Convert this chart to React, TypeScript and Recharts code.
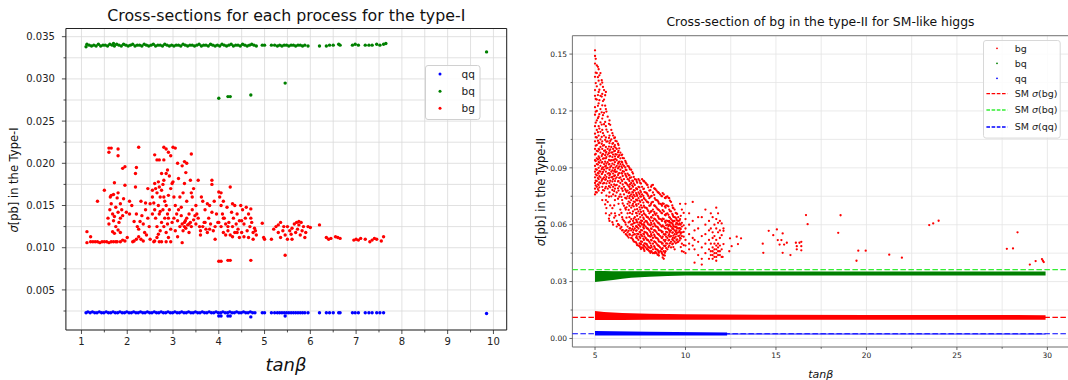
import React from 'react';
import {
  ComposedChart,
  Scatter,
  Area,
  XAxis,
  YAxis,
  CartesianGrid,
  ReferenceLine,
  ReferenceArea,
  Legend,
} from 'recharts';

type P = [number, number];

// ---------------- Left panel (type-I) ----------------
const typeIXTicks = [1, 1.5, 2, 2.5, 3, 3.5, 4, 4.5, 5, 5.5, 6, 6.5, 7, 7.5, 8, 8.5, 9, 9.5, 10];
const typeIYTicks = [0.0025, 0.005, 0.0075, 0.01, 0.0125, 0.015, 0.0175, 0.02, 0.0225, 0.025, 0.0275, 0.03, 0.0325, 0.035];

const typeIBq: P[] = [
  [1.10, 0.0338], [1.12, 0.0341], [1.17, 0.0340], [1.22, 0.0339], [1.27, 0.0340], [1.32, 0.0339], [1.37, 0.0341], [1.42, 0.0339],
  [1.47, 0.0340], [1.52, 0.0340], [1.57, 0.0339], [1.62, 0.0341], [1.67, 0.0340], [1.70, 0.0342], [1.72, 0.0339], [1.77, 0.0341],
  [1.82, 0.0340], [1.87, 0.0339], [1.92, 0.0341], [1.97, 0.0340], [2.02, 0.0339], [2.07, 0.0340], [2.12, 0.0341], [2.17, 0.0339],
  [2.22, 0.0340], [2.27, 0.0340], [2.32, 0.0339], [2.37, 0.0341], [2.42, 0.0340], [2.47, 0.0339], [2.52, 0.0340], [2.57, 0.0341],
  [2.62, 0.0339], [2.67, 0.0340], [2.72, 0.0340], [2.77, 0.0339], [2.82, 0.0341], [2.87, 0.0340], [2.92, 0.0339], [2.97, 0.0340],
  [3.02, 0.0339], [3.07, 0.0340], [3.12, 0.0340], [3.17, 0.0339], [3.22, 0.0341], [3.27, 0.0340], [3.32, 0.0339], [3.37, 0.0340],
  [3.42, 0.0340], [3.47, 0.0339], [3.52, 0.0340], [3.57, 0.0341], [3.62, 0.0339], [3.67, 0.0340], [3.72, 0.0340], [3.77, 0.0339],
  [3.82, 0.0341], [3.87, 0.0340], [3.92, 0.0339], [3.97, 0.0340], [4.02, 0.0339], [4.07, 0.0341], [4.12, 0.0340], [4.17, 0.0339],
  [4.22, 0.0340], [4.27, 0.0341], [4.32, 0.0339], [4.37, 0.0340], [4.42, 0.0340], [4.47, 0.0339], [4.52, 0.0341], [4.57, 0.0340],
  [4.62, 0.0339], [4.67, 0.0340], [4.72, 0.0341], [4.77, 0.0340], [4.82, 0.0339],
  [4.95, 0.0340], [5.00, 0.0340], [5.15, 0.0340], [5.22, 0.0340], [5.28, 0.0339], [5.33, 0.0340], [5.38, 0.0339], [5.43, 0.0340],
  [5.48, 0.0340], [5.53, 0.0339], [5.58, 0.0340], [5.63, 0.0340], [5.68, 0.0339], [5.73, 0.0340], [5.78, 0.0340], [5.83, 0.0339],
  [5.88, 0.0340], [5.95, 0.0339], [6.20, 0.0339], [6.35, 0.0339], [6.42, 0.0340], [6.50, 0.0340], [6.62, 0.0341], [6.65, 0.0340],
  [6.92, 0.0340], [6.98, 0.0341], [7.05, 0.0340], [7.20, 0.0340], [7.28, 0.0340], [7.35, 0.0340], [7.45, 0.0341], [7.52, 0.0340],
  [7.60, 0.0341], [7.65, 0.0342],
  [4.00, 0.0277], [4.20, 0.0279], [4.25, 0.0279], [4.70, 0.0281], [5.45, 0.0295], [9.85, 0.0332],
];

const typeIQq: P[] = [
  [1.10, 0.0023], [1.14, 0.0024], [1.19, 0.0023], [1.24, 0.0024], [1.29, 0.0023], [1.34, 0.0023], [1.39, 0.0024], [1.44, 0.0023],
  [1.49, 0.0023], [1.54, 0.0024], [1.59, 0.0023], [1.64, 0.0023], [1.69, 0.0024], [1.74, 0.0023], [1.79, 0.0023], [1.84, 0.0024],
  [1.89, 0.0023], [1.94, 0.0023], [1.99, 0.0024], [2.04, 0.0023], [2.09, 0.0023], [2.14, 0.0024], [2.19, 0.0023], [2.24, 0.0023],
  [2.29, 0.0024], [2.34, 0.0023], [2.39, 0.0023], [2.44, 0.0024], [2.49, 0.0023], [2.54, 0.0023], [2.59, 0.0024], [2.64, 0.0023],
  [2.69, 0.0023], [2.74, 0.0024], [2.79, 0.0023], [2.84, 0.0023], [2.89, 0.0024], [2.94, 0.0023], [2.99, 0.0023], [3.04, 0.0024],
  [3.09, 0.0023], [3.14, 0.0023], [3.19, 0.0024], [3.24, 0.0023], [3.29, 0.0023], [3.34, 0.0024], [3.39, 0.0023], [3.44, 0.0023],
  [3.49, 0.0024], [3.54, 0.0023], [3.59, 0.0023], [3.64, 0.0024], [3.69, 0.0023], [3.74, 0.0023], [3.79, 0.0024], [3.84, 0.0023],
  [3.89, 0.0023], [3.94, 0.0024], [3.99, 0.0023], [4.04, 0.0023], [4.09, 0.0024], [4.14, 0.0023], [4.19, 0.0023], [4.24, 0.0024],
  [4.29, 0.0023], [4.34, 0.0023], [4.39, 0.0024], [4.44, 0.0023], [4.49, 0.0023], [4.54, 0.0024], [4.59, 0.0023], [4.64, 0.0023],
  [4.69, 0.0024], [4.74, 0.0023], [4.79, 0.0023],
  [4.95, 0.0023], [5.00, 0.0023], [5.15, 0.0023], [5.22, 0.0023], [5.28, 0.0023], [5.33, 0.0023], [5.38, 0.0023], [5.43, 0.0023],
  [5.48, 0.0023], [5.53, 0.0023], [5.58, 0.0023], [5.63, 0.0023], [5.68, 0.0023], [5.73, 0.0023], [5.78, 0.0023], [5.83, 0.0023],
  [5.88, 0.0023], [5.95, 0.0023], [6.20, 0.0023], [6.35, 0.0023], [6.42, 0.0023], [6.50, 0.0023], [6.62, 0.0023], [6.65, 0.0023],
  [6.92, 0.0023], [6.98, 0.0023], [7.05, 0.0023], [7.20, 0.0023], [7.28, 0.0023], [7.35, 0.0023], [7.45, 0.0023], [7.52, 0.0023],
  [7.60, 0.0023],
  [4.00, 0.0019], [4.05, 0.0019], [4.20, 0.0019], [4.25, 0.0019], [4.70, 0.0018], [5.45, 0.0019], [9.85, 0.0022],
];

const typeIBg: P[] = [
  [1.12, 0.0106], [1.20, 0.0107], [1.25, 0.0107], [1.30, 0.0107], [1.35, 0.0107], [1.40, 0.0106], [1.45, 0.0107], [1.50, 0.0107],
  [1.55, 0.0107], [1.60, 0.0106], [1.65, 0.0107], [1.70, 0.0107], [1.75, 0.0107], [1.12, 0.0119], [1.20, 0.0113], [1.35, 0.0155],
  [1.50, 0.0168], [1.60, 0.0218], [1.65, 0.0218], [1.80, 0.0217], [1.60, 0.0213], [1.80, 0.0209],
  [1.58, 0.0135], [1.60, 0.0128], [1.62, 0.0145], [1.63, 0.0160], [1.65, 0.0152], [1.68, 0.0140], [1.70, 0.0163], [1.72, 0.0177],
  [1.72, 0.0137], [1.75, 0.0148], [1.75, 0.0125], [1.78, 0.0159], [1.80, 0.0165], [1.80, 0.0142], [1.82, 0.0130], [1.85, 0.0152],
  [1.85, 0.0118], [1.88, 0.0145], [1.90, 0.0138], [1.92, 0.0158], [1.95, 0.0174], [1.98, 0.0142], [2.00, 0.0112], [1.90, 0.0109],
  [1.85, 0.0107], [1.95, 0.0108], [1.78, 0.0107], [1.80, 0.0121], [1.72, 0.0117], [1.85, 0.0135], [1.65, 0.0162], [1.70, 0.0132],
  [1.68, 0.0119], [1.95, 0.0196], [1.90, 0.0194],
  [2.05, 0.0140], [2.10, 0.0150], [2.12, 0.0107], [2.15, 0.0108], [2.18, 0.0172], [2.20, 0.0140], [2.22, 0.0125], [2.25, 0.0122],
  [2.28, 0.0131], [2.30, 0.0110], [2.30, 0.0155], [2.32, 0.0138], [2.35, 0.0128], [2.38, 0.0118], [2.40, 0.0145], [2.42, 0.0115],
  [2.45, 0.0170], [2.45, 0.0135], [2.48, 0.0125], [2.50, 0.0152], [2.50, 0.0110], [2.55, 0.0160], [2.55, 0.0140], [2.58, 0.0107],
  [2.20, 0.0110], [2.25, 0.0113], [2.40, 0.0153], [2.35, 0.0108], [2.15, 0.0131], [2.18, 0.0188], [2.20, 0.0195], [2.05, 0.0155],
  [2.25, 0.0219],
  [2.60, 0.0176], [2.62, 0.0170], [2.65, 0.0165], [2.68, 0.0178], [2.70, 0.0172], [2.72, 0.0160], [2.75, 0.0168], [2.78, 0.0175],
  [2.80, 0.0180], [2.82, 0.0155], [2.85, 0.0150], [2.85, 0.0188], [2.88, 0.0140], [2.90, 0.0162], [2.92, 0.0145], [2.95, 0.0170],
  [2.98, 0.0130], [2.60, 0.0145], [2.62, 0.0135], [2.65, 0.0125], [2.68, 0.0150], [2.70, 0.0140], [2.72, 0.0120], [2.75, 0.0130],
  [2.78, 0.0145], [2.80, 0.0125], [2.82, 0.0135], [2.85, 0.0118], [2.88, 0.0128], [2.90, 0.0112], [2.95, 0.0122], [2.65, 0.0112],
  [2.70, 0.0107], [2.75, 0.0107], [2.85, 0.0107], [2.95, 0.0107], [2.60, 0.0108], [2.68, 0.0116], [2.55, 0.0168], [2.58, 0.0153],
  [2.92, 0.0185], [2.88, 0.0192], [2.75, 0.0188], [2.72, 0.0143], [2.80, 0.0160], [2.98, 0.0176], [2.90, 0.0135],
  [2.80, 0.0219], [2.85, 0.0217], [3.00, 0.0219], [3.05, 0.0218], [2.90, 0.0213], [2.95, 0.0209], [2.65, 0.0204], [2.70, 0.0204],
  [2.80, 0.0204], [2.60, 0.0210], [3.10, 0.0200], [3.20, 0.0197], [3.25, 0.0202], [3.40, 0.0211],
  [3.00, 0.0178], [3.02, 0.0160], [3.05, 0.0150], [3.08, 0.0140], [3.10, 0.0132], [3.12, 0.0145], [3.15, 0.0125], [3.18, 0.0138],
  [3.20, 0.0128], [3.22, 0.0165], [3.22, 0.0120], [3.25, 0.0130], [3.25, 0.0176], [3.28, 0.0123], [3.30, 0.0135], [3.30, 0.0155],
  [3.32, 0.0127], [3.35, 0.0140], [3.35, 0.0118], [3.38, 0.0130], [3.40, 0.0125], [3.42, 0.0145], [3.45, 0.0133], [3.45, 0.0170],
  [3.48, 0.0138], [3.50, 0.0128], [3.50, 0.0150], [3.05, 0.0120], [3.10, 0.0113], [3.15, 0.0160], [3.20, 0.0106], [3.28, 0.0189],
  [3.12, 0.0182], [3.38, 0.0180], [3.02, 0.0135], [3.18, 0.0148], [3.40, 0.0165], [3.30, 0.0200], [3.42, 0.0160], [3.25, 0.0125],
  [3.35, 0.0128], [3.27, 0.0132],
  [3.52, 0.0140], [3.55, 0.0135], [3.58, 0.0125], [3.60, 0.0120], [3.62, 0.0160], [3.65, 0.0155], [3.68, 0.0130], [3.70, 0.0145],
  [3.72, 0.0122], [3.75, 0.0118], [3.78, 0.0135], [3.80, 0.0150], [3.82, 0.0128], [3.85, 0.0142], [3.85, 0.0180], [3.85, 0.0175],
  [3.88, 0.0120], [3.90, 0.0155], [3.92, 0.0110], [3.95, 0.0140], [3.98, 0.0130], [3.55, 0.0180], [3.60, 0.0115], [3.70, 0.0130],
  [3.75, 0.0152], [3.92, 0.0125], [3.65, 0.0125], [3.80, 0.0122],
  [4.00, 0.0166], [4.02, 0.0160], [4.05, 0.0150], [4.05, 0.0125], [4.08, 0.0140], [4.10, 0.0155], [4.10, 0.0118], [4.12, 0.0135],
  [4.15, 0.0128], [4.18, 0.0148], [4.20, 0.0120], [4.22, 0.0130], [4.25, 0.0172], [4.25, 0.0115], [4.28, 0.0142], [4.30, 0.0125],
  [4.32, 0.0135], [4.35, 0.0150], [4.35, 0.0118], [4.38, 0.0128], [4.40, 0.0140], [4.42, 0.0122], [4.45, 0.0132], [4.48, 0.0150],
  [4.50, 0.0118], [4.52, 0.0145], [4.55, 0.0128], [4.58, 0.0135], [4.60, 0.0148], [4.62, 0.0120], [4.65, 0.0140], [4.68, 0.0125],
  [4.70, 0.0146], [4.72, 0.0130], [4.75, 0.0118], [4.78, 0.0123], [4.80, 0.0120], [4.82, 0.0115], [4.15, 0.0115], [4.30, 0.0113],
  [4.45, 0.0112], [4.20, 0.0125], [4.40, 0.0118], [4.55, 0.0113], [4.65, 0.0112], [4.10, 0.0135], [4.05, 0.0165], [4.30, 0.0152],
  [4.50, 0.0132], [4.70, 0.0135], [4.00, 0.0130], [4.75, 0.0110],
  [4.00, 0.0084], [4.05, 0.0084], [4.20, 0.0085], [4.25, 0.0085], [4.70, 0.0085], [5.45, 0.0091],
  [4.95, 0.0129], [4.98, 0.0112], [5.00, 0.0110], [5.15, 0.0110], [5.20, 0.0122], [5.25, 0.0125], [5.30, 0.0118], [5.35, 0.0130],
  [5.35, 0.0112], [5.40, 0.0120], [5.45, 0.0115], [5.50, 0.0125], [5.50, 0.0110], [5.55, 0.0120], [5.60, 0.0123], [5.60, 0.0110],
  [5.65, 0.0128], [5.68, 0.0118], [5.70, 0.0130], [5.72, 0.0122], [5.75, 0.0127], [5.78, 0.0115], [5.80, 0.0130], [5.82, 0.0120],
  [5.85, 0.0125], [5.90, 0.0118], [5.95, 0.0125], [6.00, 0.0124], [5.42, 0.0125], [5.58, 0.0116], [5.75, 0.0131], [5.88, 0.0112],
  [5.30, 0.0127],
  [6.20, 0.0127], [6.35, 0.0112], [6.40, 0.0110], [6.45, 0.0111], [6.55, 0.0113], [6.60, 0.0112], [6.65, 0.0111], [6.95, 0.0109],
  [7.00, 0.0110], [7.05, 0.0109], [7.10, 0.0111], [7.20, 0.0110], [7.30, 0.0107], [7.35, 0.0109], [7.40, 0.0111], [7.45, 0.0110],
  [7.55, 0.0108], [7.60, 0.0113],
];

// ---------------- Right panel (type-II) ----------------
const typeIIXTicks = [5, 7.5, 10, 12.5, 15, 17.5, 20, 22.5, 25, 27.5, 30];
const typeIIYTicks = [0, 0.015, 0.03, 0.045, 0.06, 0.075, 0.09, 0.105, 0.12, 0.135, 0.15];

// bg cloud, read column by column: [tanβ, σ values]
const typeIIBgCols: [number, number[]][] = [
  [5.0, [0.152, 0.149, 0.145, 0.138, 0.131, 0.128, 0.122, 0.118, 0.112, 0.108, 0.104, 0.100, 0.097, 0.094, 0.091, 0.088, 0.085, 0.082, 0.079, 0.076]],
  [5.1, [0.144, 0.140, 0.133, 0.126, 0.120, 0.115, 0.110, 0.106, 0.102, 0.099, 0.095, 0.092, 0.089, 0.086, 0.083, 0.080, 0.077]],
  [5.2, [0.142, 0.136, 0.130, 0.124, 0.117, 0.112, 0.107, 0.103, 0.100, 0.096, 0.093, 0.090, 0.087, 0.084, 0.081, 0.078]],
  [5.3, [0.140, 0.134, 0.128, 0.121, 0.114, 0.109, 0.105, 0.101, 0.098, 0.094, 0.091, 0.088, 0.085, 0.082]],
  [5.4, [0.135, 0.129, 0.123, 0.116, 0.110, 0.104, 0.100, 0.097, 0.093, 0.090, 0.087, 0.084, 0.080, 0.073]],
  [5.5, [0.131, 0.126, 0.119, 0.113, 0.107, 0.102, 0.099, 0.095, 0.092, 0.089, 0.085, 0.082, 0.078]],
  [5.6, [0.130, 0.121, 0.112, 0.106, 0.101, 0.098, 0.095, 0.091, 0.088, 0.084, 0.080, 0.073, 0.066]],
  [5.7, [0.117, 0.109, 0.104, 0.100, 0.097, 0.093, 0.090, 0.087, 0.083, 0.079, 0.072]],
  [5.8, [0.115, 0.107, 0.103, 0.099, 0.096, 0.092, 0.089, 0.086, 0.082, 0.077, 0.065, 0.062]],
  [5.9, [0.110, 0.105, 0.101, 0.098, 0.094, 0.091, 0.088, 0.085, 0.081, 0.075, 0.066]],
  [6.0, [0.107, 0.103, 0.100, 0.097, 0.094, 0.090, 0.087, 0.084, 0.080, 0.076, 0.060]],
  [6.1, [0.106, 0.102, 0.099, 0.096, 0.093, 0.089, 0.086, 0.083, 0.079, 0.073, 0.066]],
  [6.2, [0.104, 0.100, 0.097, 0.094, 0.091, 0.088, 0.085, 0.081, 0.077, 0.062, 0.059]],
  [6.3, [0.102, 0.099, 0.096, 0.093, 0.090, 0.087, 0.083, 0.078, 0.071, 0.060]],
  [6.4, [0.098, 0.095, 0.092, 0.089, 0.085, 0.082, 0.076, 0.068, 0.058]],
  [6.5, [0.097, 0.093, 0.090, 0.087, 0.083, 0.079, 0.073, 0.064, 0.057]],
  [6.6, [0.095, 0.091, 0.088, 0.084, 0.080, 0.076, 0.070, 0.062, 0.056]],
  [6.7, [0.093, 0.089, 0.086, 0.082, 0.078, 0.074, 0.068, 0.060, 0.055]],
  [6.8, [0.091, 0.087, 0.084, 0.081, 0.078, 0.075, 0.071, 0.066, 0.059, 0.056, 0.054]],
  [6.9, [0.090, 0.086, 0.083, 0.080, 0.077, 0.074, 0.070, 0.064, 0.058, 0.055]],
  [7.0, [0.089, 0.085, 0.082, 0.079, 0.076, 0.073, 0.069, 0.063, 0.060, 0.057, 0.053]],
  [7.1, [0.087, 0.083, 0.080, 0.077, 0.074, 0.071, 0.067, 0.062, 0.059, 0.056, 0.052]],
  [7.2, [0.084, 0.081, 0.078, 0.075, 0.072, 0.068, 0.064, 0.061, 0.058, 0.055, 0.051]],
  [7.3, [0.083, 0.079, 0.076, 0.073, 0.070, 0.066, 0.062, 0.059, 0.057, 0.054, 0.050]],
  [7.4, [0.084, 0.080, 0.077, 0.074, 0.071, 0.067, 0.063, 0.060, 0.058, 0.055, 0.052, 0.049]],
  [7.5, [0.082, 0.078, 0.075, 0.072, 0.068, 0.064, 0.061, 0.059, 0.056, 0.053, 0.050, 0.048]],
  [7.6, [0.084, 0.080, 0.076, 0.073, 0.069, 0.065, 0.062, 0.060, 0.057, 0.054, 0.051, 0.048]],
  [7.7, [0.083, 0.079, 0.074, 0.070, 0.066, 0.063, 0.060, 0.058, 0.055, 0.052, 0.049, 0.047]],
  [7.8, [0.082, 0.077, 0.073, 0.069, 0.065, 0.062, 0.059, 0.056, 0.053, 0.050, 0.048]],
  [7.9, [0.081, 0.076, 0.072, 0.068, 0.064, 0.061, 0.058, 0.055, 0.052, 0.049, 0.047]],
  [8.0, [0.078, 0.074, 0.070, 0.066, 0.063, 0.060, 0.057, 0.054, 0.051, 0.048, 0.046]],
  [8.1, [0.080, 0.075, 0.071, 0.067, 0.064, 0.061, 0.058, 0.055, 0.052, 0.049, 0.046]],
  [8.2, [0.081, 0.077, 0.072, 0.068, 0.065, 0.062, 0.059, 0.056, 0.053, 0.050, 0.047, 0.045]],
  [8.3, [0.079, 0.074, 0.070, 0.066, 0.063, 0.060, 0.057, 0.054, 0.051, 0.048, 0.045]],
  [8.4, [0.078, 0.073, 0.069, 0.066, 0.062, 0.059, 0.056, 0.053, 0.050, 0.047, 0.045]],
  [8.5, [0.077, 0.072, 0.068, 0.064, 0.061, 0.058, 0.055, 0.052, 0.049, 0.046, 0.044]],
  [8.6, [0.076, 0.071, 0.067, 0.063, 0.060, 0.057, 0.054, 0.051, 0.048, 0.046]],
  [8.7, [0.075, 0.070, 0.066, 0.062, 0.059, 0.056, 0.053, 0.050, 0.047, 0.045]],
  [8.8, [0.076, 0.071, 0.067, 0.063, 0.059, 0.055, 0.052, 0.049, 0.046, 0.044, 0.042]],
  [8.9, [0.074, 0.069, 0.065, 0.061, 0.058, 0.055, 0.052, 0.049, 0.046]],
  [9.0, [0.075, 0.070, 0.066, 0.062, 0.060, 0.058, 0.056, 0.053, 0.050, 0.047]],
  [9.1, [0.074, 0.068, 0.064, 0.062, 0.060, 0.057, 0.055, 0.052, 0.049]],
  [9.2, [0.072, 0.067, 0.063, 0.061, 0.059, 0.057, 0.054, 0.051, 0.048]],
  [9.3, [0.069, 0.065, 0.062, 0.060, 0.058, 0.056, 0.053, 0.050]],
  [9.4, [0.068, 0.064, 0.062, 0.059, 0.057, 0.055, 0.053, 0.051, 0.047]],
  [9.5, [0.066, 0.063, 0.061, 0.059, 0.057, 0.055, 0.052]],
  [9.6, [0.064, 0.062, 0.060, 0.058, 0.056, 0.054, 0.051]],
  [9.7, [0.071, 0.063, 0.060, 0.058, 0.056, 0.053]],
  [9.8, [0.068, 0.061, 0.059, 0.056, 0.054, 0.050, 0.046]],
  [10.0, [0.071, 0.063, 0.058, 0.052, 0.049, 0.045]],
  [10.2, [0.066, 0.060, 0.055, 0.050, 0.047]],
  [10.4, [0.072, 0.062, 0.053, 0.049]],
  [10.5, [0.057, 0.052, 0.047, 0.040]],
  [10.7, [0.064, 0.058, 0.051, 0.044]],
  [10.9, [0.064, 0.054, 0.048, 0.039, 0.042]],
  [11.1, [0.068, 0.060, 0.055, 0.050, 0.045]],
  [11.3, [0.062, 0.057, 0.052, 0.047, 0.042]],
  [11.4, [0.066, 0.058, 0.050, 0.046, 0.044]],
  [11.5, [0.064, 0.056, 0.053, 0.048, 0.046, 0.044, 0.042]],
  [11.6, [0.060, 0.054, 0.050, 0.047, 0.045, 0.043]],
  [11.7, [0.069, 0.063, 0.058, 0.052, 0.049, 0.047, 0.045, 0.043, 0.041]],
  [11.8, [0.066, 0.061, 0.056, 0.050, 0.048, 0.046, 0.044]],
  [11.9, [0.062, 0.057, 0.053, 0.049, 0.046, 0.044]],
  [12.0, [0.0607, 0.0545, 0.047, 0.043]],
  [12.1, [0.058, 0.0568, 0.0498]],
];

// more bg cloud points, read between the columns above
const typeIIBgColsB: [number, number[]][] = [
  [5.04, [0.1475, 0.1402, 0.1347, 0.1263, 0.1196, 0.1138, 0.1062, 0.1017, 0.0973, 0.0936, 0.0893, 0.0866, 0.0832, 0.0807, 0.0772]],
  [5.16, [0.1433, 0.1378, 0.1284, 0.1227, 0.1162, 0.1088, 0.1043, 0.0987, 0.0944, 0.0917, 0.0873, 0.0846, 0.0813, 0.0788]],
  [5.24, [0.1388, 0.1312, 0.1257, 0.1183, 0.1107, 0.1033, 0.0996, 0.0952, 0.0927, 0.0882, 0.0856, 0.0823, 0.0797]],
  [5.37, [0.1362, 0.1276, 0.1193, 0.1128, 0.1063, 0.1027, 0.0962, 0.0928, 0.0893, 0.0867, 0.0832, 0.0768]],
  [5.44, [0.1327, 0.1252, 0.1178, 0.1083, 0.1017, 0.0973, 0.0948, 0.0902, 0.0878, 0.0843, 0.0817, 0.0782]],
  [5.56, [0.1283, 0.1228, 0.1142, 0.1047, 0.0992, 0.0967, 0.0932, 0.0907, 0.0862, 0.0837, 0.0792, 0.0707]],
  [5.63, [0.1197, 0.1102, 0.1038, 0.0983, 0.0957, 0.0922, 0.0897, 0.0852, 0.0818, 0.0753, 0.0688]],
  [5.77, [0.1132, 0.1058, 0.1012, 0.0977, 0.0942, 0.0918, 0.0872, 0.0847, 0.0803, 0.0748, 0.0632]],
  [5.84, [0.1127, 0.1042, 0.0997, 0.0962, 0.0938, 0.0903, 0.0867, 0.0832, 0.0797, 0.0702]],
  [5.96, [0.1083, 0.1027, 0.0982, 0.0957, 0.0922, 0.0887, 0.0852, 0.0828, 0.0783, 0.0687, 0.0613]],
  [6.06, [0.1057, 0.1012, 0.0988, 0.0943, 0.0917, 0.0882, 0.0857, 0.0812, 0.0777, 0.0702, 0.0637]],
  [6.13, [0.1042, 0.1007, 0.0972, 0.0947, 0.0902, 0.0878, 0.0843, 0.0807, 0.0752, 0.0647]],
  [6.27, [0.1027, 0.0982, 0.0957, 0.0922, 0.0897, 0.0862, 0.0828, 0.0792, 0.0737, 0.0603]],
  [6.34, [0.1003, 0.0967, 0.0932, 0.0908, 0.0872, 0.0847, 0.0802, 0.0748, 0.0652, 0.0597]],
  [6.46, [0.0967, 0.0932, 0.0907, 0.0872, 0.0838, 0.0792, 0.0747, 0.0662, 0.0588]],
  [6.53, [0.0952, 0.0918, 0.0882, 0.0857, 0.0812, 0.0778, 0.0712, 0.0628, 0.0572]],
  [6.67, [0.0937, 0.0902, 0.0868, 0.0822, 0.0787, 0.0742, 0.0688, 0.0612, 0.0567]],
  [6.74, [0.0922, 0.0888, 0.0852, 0.0817, 0.0772, 0.0738, 0.0692, 0.0637, 0.0572, 0.0547]],
  [6.86, [0.0907, 0.0862, 0.0838, 0.0802, 0.0767, 0.0722, 0.0678, 0.0612, 0.0568, 0.0532]],
  [6.93, [0.0892, 0.0847, 0.0812, 0.0788, 0.0752, 0.0717, 0.0662, 0.0617, 0.0582, 0.0547]],
  [7.06, [0.0877, 0.0832, 0.0807, 0.0772, 0.0748, 0.0702, 0.0657, 0.0602, 0.0578, 0.0542, 0.0527]],
  [7.14, [0.0852, 0.0818, 0.0782, 0.0757, 0.0722, 0.0697, 0.0632, 0.0608, 0.0572, 0.0548, 0.0512]],
  [7.27, [0.0838, 0.0792, 0.0767, 0.0732, 0.0707, 0.0662, 0.0627, 0.0592, 0.0568, 0.0532, 0.0507]],
  [7.33, [0.0822, 0.0787, 0.0752, 0.0728, 0.0682, 0.0647, 0.0612, 0.0587, 0.0552, 0.0528, 0.0492]],
  [7.46, [0.0832, 0.0797, 0.0762, 0.0727, 0.0692, 0.0657, 0.0612, 0.0597, 0.0562, 0.0537, 0.0502, 0.0487]],
  [7.54, [0.0817, 0.0772, 0.0748, 0.0702, 0.0667, 0.0622, 0.0608, 0.0572, 0.0547, 0.0512, 0.0497, 0.0472]],
  [7.67, [0.0832, 0.0788, 0.0752, 0.0717, 0.0672, 0.0637, 0.0602, 0.0587, 0.0552, 0.0527, 0.0492, 0.0477]],
  [7.73, [0.0827, 0.0772, 0.0737, 0.0692, 0.0657, 0.0612, 0.0597, 0.0562, 0.0538, 0.0502, 0.0487, 0.0462]],
  [7.86, [0.0812, 0.0767, 0.0722, 0.0688, 0.0642, 0.0617, 0.0582, 0.0557, 0.0522, 0.0497, 0.0472]],
  [7.94, [0.0797, 0.0752, 0.0717, 0.0672, 0.0637, 0.0602, 0.0577, 0.0542, 0.0517, 0.0482, 0.0467]],
  [8.06, [0.0782, 0.0747, 0.0702, 0.0667, 0.0622, 0.0597, 0.0562, 0.0537, 0.0502, 0.0477, 0.0452]],
  [8.13, [0.0807, 0.0752, 0.0718, 0.0672, 0.0637, 0.0602, 0.0577, 0.0542, 0.0517, 0.0482, 0.0457]],
  [8.27, [0.0792, 0.0757, 0.0702, 0.0668, 0.0632, 0.0607, 0.0572, 0.0547, 0.0512, 0.0487, 0.0452]],
  [8.34, [0.0787, 0.0732, 0.0697, 0.0652, 0.0627, 0.0592, 0.0567, 0.0532, 0.0507, 0.0472, 0.0457]],
  [8.46, [0.0772, 0.0727, 0.0682, 0.0647, 0.0612, 0.0587, 0.0552, 0.0527, 0.0492, 0.0467, 0.0442]],
  [8.53, [0.0767, 0.0712, 0.0677, 0.0632, 0.0607, 0.0572, 0.0547, 0.0512, 0.0487, 0.0452, 0.0437]],
  [8.67, [0.0752, 0.0707, 0.0662, 0.0627, 0.0592, 0.0567, 0.0532, 0.0507, 0.0472, 0.0457]],
  [8.74, [0.0767, 0.0712, 0.0677, 0.0632, 0.0597, 0.0562, 0.0537, 0.0502, 0.0477, 0.0442, 0.0427]],
  [8.86, [0.0742, 0.0697, 0.0652, 0.0617, 0.0582, 0.0547, 0.0512, 0.0487, 0.0452, 0.0437]],
  [8.93, [0.0747, 0.0702, 0.0657, 0.0622, 0.0597, 0.0562, 0.0537, 0.0502, 0.0477]],
  [9.06, [0.0742, 0.0697, 0.0652, 0.0617, 0.0592, 0.0577, 0.0542, 0.0517, 0.0482]],
  [9.14, [0.0727, 0.0672, 0.0637, 0.0612, 0.0597, 0.0562, 0.0537, 0.0502]],
  [9.27, [0.0702, 0.0657, 0.0622, 0.0607, 0.0582, 0.0557, 0.0522, 0.0497]],
  [9.33, [0.0687, 0.0642, 0.0617, 0.0592, 0.0577, 0.0542, 0.0517, 0.0482]],
  [9.46, [0.0662, 0.0637, 0.0602, 0.0587, 0.0562, 0.0537, 0.0502]],
  [9.54, [0.0657, 0.0622, 0.0607, 0.0582, 0.0557, 0.0522, 0.0507]],
  [9.67, [0.0622, 0.0607, 0.0582, 0.0567, 0.0542, 0.0517]],
  [9.74, [0.0647, 0.0602, 0.0577, 0.0552, 0.0527, 0.0482]],
  [9.9, [0.0662, 0.0597, 0.0562, 0.0537, 0.0492, 0.0457]],
];

const typeIIBgSparse: P[] = [
  [12.46, 0.0528], [12.83, 0.0537], [13.07, 0.0528], [12.9, 0.0498], [12.55, 0.0487], [12.42, 0.046], [12.05, 0.043],
  [14.27, 0.050], [14.3, 0.0452], [14.6, 0.0568], [14.85, 0.0545], [15.05, 0.0575], [15.1, 0.0519], [15.3, 0.0519],
  [15.37, 0.0554], [15.2, 0.0495], [15.45, 0.0495], [15.6, 0.0505], [15.37, 0.0452], [15.8, 0.044], [16.1, 0.0505],
  [16.3, 0.0505], [16.4, 0.051], [16.15, 0.0487], [16.4, 0.0487], [16.15, 0.047], [16.4, 0.0465], [16.66, 0.0651],
  [16.75, 0.0603], [18.44, 0.0557], [18.57, 0.065], [19.45, 0.041], [19.55, 0.0463], [19.96, 0.0463], [21.26, 0.0442],
  [21.96, 0.0426], [23.47, 0.0598], [23.69, 0.0607], [23.99, 0.0621], [27.76, 0.0473], [28.1, 0.0475], [28.35, 0.056],
  [29.03, 0.039], [29.35, 0.0408], [29.7, 0.0419], [29.75, 0.041], [29.8, 0.0403],
];

// dense bands: [tanβ, low, high]
const typeIIBqBand: [number, number, number][] = [
  [5.0, 0.0298, 0.0356], [5.5, 0.0303, 0.0356], [6.0, 0.0309, 0.0355], [6.5, 0.0315, 0.0355], [7.0, 0.0320, 0.0354],
  [8.0, 0.0326, 0.0354], [9.0, 0.0330, 0.0353], [10.0, 0.0332, 0.0353], [12.0, 0.0332, 0.0353], [29.9, 0.0332, 0.0353],
];
const typeIIBgBand: [number, number, number][] = [
  [5.0, 0.0098, 0.0145], [5.5, 0.0098, 0.0140], [6.5, 0.0098, 0.0134], [8.0, 0.0099, 0.0130], [10.0, 0.0099, 0.0128],
  [15.0, 0.0099, 0.0125], [20.0, 0.0099, 0.0124], [29.9, 0.0099, 0.0123],
];
const typeIIQqBand: [number, number, number][] = [
  [5.0, 0.0016, 0.0040], [8.0, 0.0016, 0.0035], [12.3, 0.0016, 0.0032],
];
const typeIIQqTail: [number, number, number][] = [
  [12.3, 0.0018, 0.0029], [29.9, 0.0018, 0.0029],
];

const smBg = 0.0111;
const smBq = 0.0363;
const smQq = 0.0025;

// ---------------- helpers ----------------
const toPts = (arr: P[]) => arr.map(([x, y]) => ({ x, y }));
const colsToPts = (cols: [number, number[]][]) => cols.flatMap(([x, ys]) => ys.map((y) => ({ x, y })));

const bandRows = [
  ...typeIIBqBand.map(([x, lo, hi]) => ({ x, bq: [lo, hi] })),
  ...typeIIBgBand.map(([x, lo, hi]) => ({ x, bg: [lo, hi] })),
  ...typeIIQqBand.map(([x, lo, hi]) => ({ x, qq: [lo, hi] })),
  ...typeIIQqTail.map(([x, lo, hi]) => ({ x, qqt: [lo, hi] })),
].sort((a, b) => a.x - b.x);

const FONT = '"DejaVu Sans", sans-serif';

const dot = (r: number, color: string) => (props: any) =>
  props.cx == null ? <g /> : <circle cx={props.cx} cy={props.cy} r={r} fill={color} />;

const near = (v: number, step: number) => Math.abs(v / step - Math.round(v / step)) < 1e-6;

type TickOpts = {
  axis: 'x' | 'y';
  isMajor: (v: number) => boolean;
  fmt: (v: number) => string;
  major: number;
  minor: number;
  pad: number;
  fontSize: number;
  color: string;
  textColor: string;
};

const mkTick = (o: TickOpts) => (props: any) => {
  const { x, y, payload } = props;
  const v = payload.value as number;
  const maj = o.isMajor(v);
  const len = maj ? o.major : o.minor;
  if (o.axis === 'x') {
    return (
      <g>
        <line x1={x} y1={y} x2={x} y2={y + len} stroke={o.color} strokeWidth={0.8} />
        {maj && (
          <text x={x} y={y + len + o.pad + o.fontSize * 0.76} textAnchor="middle" fontSize={o.fontSize} fill={o.textColor} fontFamily={FONT}>
            {o.fmt(v)}
          </text>
        )}
      </g>
    );
  }
  return (
    <g>
      <line x1={x} y1={y} x2={x - len} y2={y} stroke={o.color} strokeWidth={0.8} />
      {maj && (
        <text x={x - len - o.pad} y={y + o.fontSize * 0.36} textAnchor="end" fontSize={o.fontSize} fill={o.textColor} fontFamily={FONT}>
          {o.fmt(v)}
        </text>
      )}
    </g>
  );
};

const leftXTick = mkTick({ axis: 'x', isMajor: (v) => near(v, 1), fmt: (v) => String(v), major: 4, minor: 2.4, pad: 3, fontSize: 10, color: '#222', textColor: '#222' });
const leftYTick = mkTick({ axis: 'y', isMajor: (v) => near(v, 0.005), fmt: (v) => v.toFixed(3), major: 4, minor: 2.4, pad: 7, fontSize: 10, color: '#222', textColor: '#222' });
const rightXTick = mkTick({ axis: 'x', isMajor: (v) => near(v, 5), fmt: (v) => String(v), major: 3, minor: 1.8, pad: 2, fontSize: 7.5, color: '#444', textColor: '#222' });
const rightYTick = mkTick({ axis: 'y', isMajor: (v) => near(v, 0.03), fmt: (v) => v.toFixed(2), major: 3, minor: 1.8, pad: 2.4, fontSize: 7.5, color: '#444', textColor: '#222' });

const LeftLegend = () => {
  const rows = [
    { label: 'qq', color: '#0000ff', y: 9 },
    { label: 'bq', color: '#008000', y: 26.3 },
    { label: 'bg', color: '#ff0000', y: 43.3 },
  ];
  return (
    <svg width={56} height={56} style={{ display: 'block' }}>
      <rect x={0.5} y={0.5} width={54.5} height={54} rx={2.5} fill="#fff" fillOpacity={0.85} stroke="#d0d0d0" />
      {rows.map((r) => (
        <g key={r.label}>
          <circle cx={15} cy={r.y} r={1.5} fill={r.color} />
          <text x={36.5} y={r.y + 3.6} fontSize={10.5} fill="#222" fontFamily={FONT}>
            {r.label}
          </text>
        </g>
      ))}
    </svg>
  );
};

const RightLegend = () => {
  const dots = [
    { label: 'bg', color: '#ff0000', y: 8.3 },
    { label: 'bq', color: '#008000', y: 23.3 },
    { label: 'qq', color: '#0000ff', y: 38.3 },
  ];
  const lines = [
    { label: 'bg', color: '#ff0000', y: 53.6 },
    { label: 'bq', color: '#33ee33', y: 70 },
    { label: 'qq', color: '#0000ff', y: 87 },
  ];
  return (
    <svg width={78} height={99} style={{ display: 'block' }}>
      <rect x={0.5} y={0.5} width={76.7} height={97.6} rx={2.5} fill="#fff" fillOpacity={0.85} stroke="#d8d8d8" />
      {dots.map((r) => (
        <g key={'d' + r.label}>
          <circle cx={14} cy={r.y} r={0.9} fill={r.color} />
          <text x={31.7} y={r.y + 3.4} fontSize={9.5} fill="#222" fontFamily={FONT}>
            {r.label}
          </text>
        </g>
      ))}
      {lines.map((r) => (
        <g key={'l' + r.label}>
          <line x1={3.4} y1={r.y} x2={24.4} y2={r.y} stroke={r.color} strokeWidth={1.3} strokeDasharray="3.6 1.6" />
          <text x={31.7} y={r.y + 3.4} fontSize={9.5} fill="#222" fontFamily={FONT}>
            SM <tspan fontStyle="italic">σ</tspan>({r.label})
          </text>
        </g>
      ))}
    </svg>
  );
};

const label = (text: React.ReactNode, cx: number, cy: number, size: number, extra: React.CSSProperties = {}, rotate = false) => (
  <div
    style={{
      position: 'absolute',
      left: cx,
      top: cy,
      transform: `translate(-50%, -50%)${rotate ? ' rotate(-90deg)' : ''}`,
      fontSize: size,
      lineHeight: 1,
      whiteSpace: 'nowrap',
      color: '#111',
      fontFamily: FONT,
      ...extra,
    }}
  >
    {text}
  </div>
);

export default function App() {
  const LX: [number, number] = [0.66, 10.29];
  const LY: [number, number] = [0.00025, 0.03597];
  const RX: [number, number] = [3.75, 31.25];
  const RY: [number, number] = [-0.0045, 0.1597];

  return (
    <div style={{ position: 'absolute', left: 0, top: 0, width: 1068, height: 380, overflow: 'hidden', background: '#fff', fontFamily: FONT }}>
      <div style={{ position: 'absolute', left: 0, top: 0 }}>
        <ComposedChart width={534} height={380} margin={{ top: 28.5, right: 27.3, bottom: 20, left: 5.9 }}>
          <CartesianGrid stroke="#d9d9d9" strokeWidth={0.8} />
          <XAxis type="number" dataKey="x" domain={LX} ticks={typeIXTicks} interval={0} allowDataOverflow height={30}
            tickLine={false} axisLine={false} tickSize={0} tickMargin={0} tick={leftXTick} />
          <YAxis type="number" dataKey="y" domain={LY} ticks={typeIYTicks} interval={0} allowDataOverflow width={60}
            tickLine={false} axisLine={false} tickSize={0} tickMargin={0} tick={leftYTick} />
          <Scatter name="qq" data={toPts(typeIQq)} fill="#0000ff" shape={dot(1.7, '#0000ff')} isAnimationActive={false} />
          <Scatter name="bq" data={toPts(typeIBq)} fill="#008000" shape={dot(1.7, '#008000')} isAnimationActive={false} />
          <Scatter name="bg" data={toPts(typeIBg)} fill="#ff0000" shape={dot(1.7, '#ff0000')} isAnimationActive={false} />
          <ReferenceArea x1={LX[0]} x2={LX[1]} y1={LY[0]} y2={LY[1]} fill="none" fillOpacity={0} stroke="#222" strokeWidth={1} ifOverflow="visible" />
          <Legend layout="vertical" align="center" verticalAlign="middle" content={() => <LeftLegend />}
            wrapperStyle={{ position: 'absolute', left: 425, top: 65, width: 56, height: 56 }} />
        </ComposedChart>
      </div>

      <div style={{ position: 'absolute', left: 534, top: 0 }}>
        <ComposedChart width={540} height={380} data={bandRows} margin={{ top: 35.7, right: 4, bottom: 13, left: 8.4 }}>
          <CartesianGrid stroke="#e4e4e4" strokeWidth={0.8} />
          <XAxis type="number" dataKey="x" domain={RX} ticks={typeIIXTicks} interval={0} allowDataOverflow height={20}
            tickLine={false} axisLine={false} tickSize={0} tickMargin={0} tick={rightXTick} />
          <YAxis type="number" dataKey="y" domain={RY} ticks={typeIIYTicks} interval={0} allowDataOverflow width={30}
            tickLine={false} axisLine={false} tickSize={0} tickMargin={0} tick={rightYTick} />
          <Area type="linear" dataKey="bq" connectNulls stroke="none" fill="#008000" fillOpacity={1} isAnimationActive={false} dot={false} activeDot={false} />
          <Area type="linear" dataKey="bg" connectNulls stroke="none" fill="#ff0000" fillOpacity={1} isAnimationActive={false} dot={false} activeDot={false} />
          <Area type="linear" dataKey="qq" connectNulls stroke="none" fill="#0000ff" fillOpacity={1} isAnimationActive={false} dot={false} activeDot={false} />
          <Area type="linear" dataKey="qqt" connectNulls stroke="none" fill="#0000ff" fillOpacity={0.45} isAnimationActive={false} dot={false} activeDot={false} />
          <Scatter name="bg" data={colsToPts(typeIIBgCols)} fill="#ff0000" shape={dot(1.15, '#ff0000')} isAnimationActive={false} />
          <Scatter name="bg-b" data={colsToPts(typeIIBgColsB)} fill="#ff0000" shape={dot(1.15, '#ff0000')} isAnimationActive={false} />
          <Scatter name="bg-sparse" data={toPts(typeIIBgSparse)} fill="#ff0000" shape={dot(1.15, '#ff0000')} isAnimationActive={false} />
          <ReferenceLine y={smBg} stroke="#ff0000" strokeWidth={1.2} strokeDasharray="5.5 2.5" />
          <ReferenceLine y={smBq} stroke="#33ee33" strokeWidth={1.2} strokeDasharray="5.5 2.5" />
          <ReferenceLine y={smQq} stroke="#0000ff" strokeWidth={1.2} strokeDasharray="5.5 2.5" />
          <ReferenceArea x1={RX[0]} x2={RX[1]} y1={RY[0]} y2={RY[1]} fill="none" fillOpacity={0} stroke="#777" strokeWidth={1} ifOverflow="visible" />
          <Legend layout="vertical" align="center" verticalAlign="middle" content={() => <RightLegend />}
            wrapperStyle={{ position: 'absolute', left: 449.3, top: 40.2, width: 78, height: 99 }} />
        </ComposedChart>
      </div>

      {label('Cross-sections for each process for the type-I', 286.3, 16.3, 15.8)}
      {label(<span><i>σ</i>[pb] in the Type-I</span>, 15.3, 180, 11.5, {}, true)}
      {label('tanβ', 286, 365, 18, { fontStyle: 'italic' })}

      {label('Cross-section of bg in the type-II for SM-like higgs', 820.5, 21.7, 12.4)}
      {label(<span><i>σ</i>[pb] in the Type-II</span>, 541.5, 191.7, 11.5, {}, true)}
      {label('tanβ', 820.8, 374, 11, { fontStyle: 'italic' })}
    </div>
  );
}
